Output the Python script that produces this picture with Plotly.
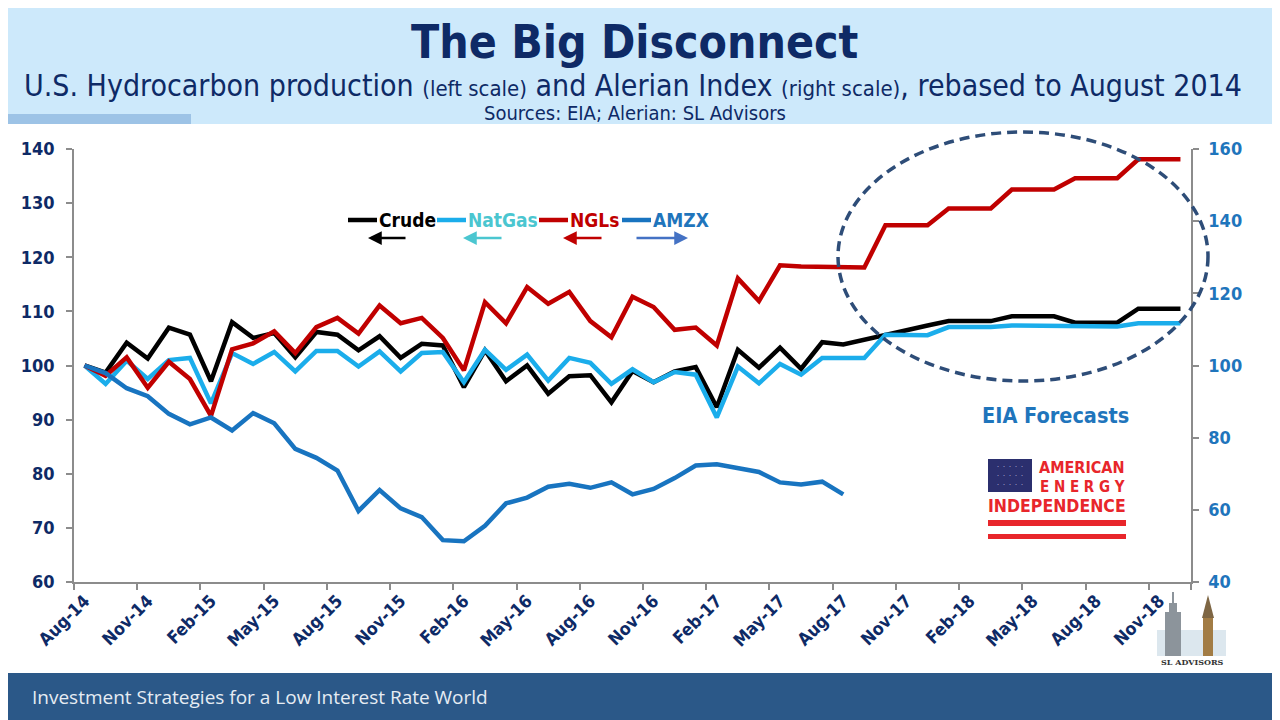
import pandas as pd
import plotly.graph_objects as go

# monthly categories, Aug-14 .. Dec-18
months = pd.date_range("2014-08-01", "2018-12-01", freq="MS").strftime("%b-%y").tolist()

# left scale, rebased to Aug 2014 = 100
crude = [100, 98.7, 104.2, 101.3, 107.0, 105.7, 97.1, 108.0, 105.1, 106.0,
         101.5, 106.2, 105.7, 102.8, 105.4, 101.4, 104.0, 103.7, 96.0, 102.8,
         97.1, 100.0, 94.8, 98.0, 98.2, 93.2, 99.0, 96.9, 98.9, 99.7,
         92.3, 102.9, 99.6, 103.3, 99.4, 104.3, 103.9, 104.7, 105.6, 106.5,
         107.4, 108.2, 108.2, 108.2, 109.1, 109.1, 109.1, 107.9, 107.9, 107.9,
         110.5, 110.5, 110.5]
natgas = [100, 96.6, 100.9, 97.5, 101.0, 101.4, 93.0, 102.3, 100.3, 102.5,
          98.9, 102.7, 102.7, 99.8, 102.6, 98.9, 102.3, 102.5, 96.9, 102.9,
          99.2, 102.0, 97.2, 101.4, 100.5, 96.6, 99.3, 96.9, 98.8, 98.3,
          90.4, 99.8, 96.7, 100.3, 98.3, 101.4, 101.4, 101.4, 105.7, 105.6,
          105.6, 107.1, 107.1, 107.1, 107.4, 107.4, 107.4, 107.2, 107.2, 107.2,
          107.8, 107.8, 107.8]
ngls = [100, 98.1, 101.5, 95.9, 100.7, 97.5, 90.7, 103.0, 104.1, 106.3,
        102.3, 107.1, 108.8, 105.9, 111.1, 107.8, 108.8, 105.1, 99.1, 111.7,
        107.8, 114.5, 111.4, 113.6, 108.2, 105.2, 112.7, 110.8, 106.6, 107.0,
        103.7, 116.1, 111.9, 118.5, 118.3, 118.2, 118.1, 118.1, 125.9, 125.9,
        125.9, 129.0, 129.0, 129.0, 132.5, 132.5, 132.5, 134.6, 134.6, 134.6,
        138.1, 138.1, 138.1]
# right scale, Alerian MLP index (Aug-14 .. Aug-17)
amzx = [100, 97.9, 93.7, 91.5, 86.6, 83.7, 85.6, 82.0, 86.8, 84.0,
        76.9, 74.4, 70.9, 59.7, 65.5, 60.4, 58.0, 51.6, 51.3, 55.6,
        61.8, 63.4, 66.4, 67.2, 66.1, 67.6, 64.3, 65.8, 68.8, 72.3,
        72.6, 71.7, 70.5, 67.6, 67.0, 67.8, 64.3]

idx = list(range(len(months)))

NAVY = "#0E2A66"
FONT = "Tahoma, 'DejaVu Sans Condensed', 'DejaVu Sans', sans-serif"

# the page body adds an 8px margin, so the figure is a bit smaller than the window
OFF = 8
W, H = 1280 - OFF, 720 - OFF
# plot area in page pixels, used to place the decorations
L, R, T, B = 74, 1191, 149, 582


def px(x):
    return (x - L) / (R - L)


def py(y):
    return (B - y) / (B - T)


fig = go.Figure()
fig.add_trace(go.Scatter(x=idx, y=crude, name="Crude", mode="lines",
                         line=dict(color="#000000", width=4.5)))
fig.add_trace(go.Scatter(x=idx, y=natgas, name="NatGas", mode="lines",
                         line=dict(color="#1BADEB", width=4.5)))
fig.add_trace(go.Scatter(x=idx, y=ngls, name="NGLs", mode="lines",
                         line=dict(color="#C00000", width=4.5)))
fig.add_trace(go.Scatter(x=idx[:len(amzx)], y=amzx, name="AMZX", mode="lines",
                         line=dict(color="#1874C0", width=4.5), yaxis="y2"))

shapes = []
ann = []


def rect(x0, y0, x1, y1, color, layer="below"):
    shapes.append(dict(type="rect", xref="paper", yref="paper",
                       x0=px(x0), x1=px(x1), y0=py(y1), y1=py(y0),
                       fillcolor=color, line=dict(width=0), layer=layer))


def text(x, y, s, size, color, bold=False, xanchor="center", family=FONT):
    ann.append(dict(xref="paper", yref="paper", x=px(x), y=py(y), text=s,
                    showarrow=False, xanchor=xanchor, yanchor="middle",
                    font=dict(family=family, size=size, color=color,
                              weight="bold" if bold else "normal")))


# header and footer bands
rect(0, 0, 1280, 124, "#CDE9FB")
rect(0, 114, 191, 124, "#9DC3E6")
rect(0, 673, 1280, 720, "#2B5888")

text(634, 42, "The Big Disconnect", 46, NAVY, bold=True)
text(633, 85, "U.S. Hydrocarbon production <span style='font-size:22px'>(left scale)</span> and Alerian Index "
              "<span style='font-size:22px'>(right scale)</span>, rebased to August 2014", 30, NAVY)
text(635, 113, "Sources: EIA; Alerian: SL Advisors", 20, NAVY)
text(30, 697, "Investment Strategies for a Low Interest Rate World", 19, "#E6ECF3",
     xanchor="left", family="'Open Sans', sans-serif")

# hand-made legend with direction arrows
legend = [("Crude", "#000000", "#000000", 348),
          ("NatGas", "#1BADEB", "#4BC6D0", 437),
          ("NGLs", "#C00000", "#C00000", 539),
          ("AMZX", "#1874C0", "#1F75BC", 622)]
for name, lc, tc, x0 in legend:
    shapes.append(dict(type="line", xref="paper", yref="paper",
                       x0=px(x0), x1=px(x0 + 29), y0=py(220), y1=py(220),
                       line=dict(color=lc, width=4.5)))
    text(x0 + 29, 220, name, 19, tc, bold=True, xanchor="left")
ar = [(368, 407, "#000000", "left"), (463, 503, "#4BC6D0", "left"),
      (563, 603, "#C00000", "left"), (635, 688, "#4472C4", "right")]
for a0, a1, col, direc in ar:
    head, tail = (a0, a1) if direc == "left" else (a1, a0)
    ann.append(dict(xref="paper", yref="paper", x=px(head), y=py(238),
                    ax=tail - head, ay=0, axref="pixel", ayref="pixel",
                    text="", showarrow=True, arrowhead=2, arrowsize=1.1,
                    arrowwidth=2.5, arrowcolor=col))

# forecast ellipse
shapes.append(dict(type="circle", xref="paper", yref="paper",
                   x0=px(838), x1=px(1208), y0=py(381), y1=py(132),
                   line=dict(color="#2E4D78", width=3.5, dash="10px,6px")))
text(1055, 415, "EIA Forecasts", 21.5, "#1F75BC", bold=True)

# American Energy Independence badge
rect(988, 459, 1032, 492, "#2B2F6E", layer="above")
text(1010, 476, "·  ·  ·  ·  ·<br>·  ·  ·  ·  ·<br>·  ·  ·  ·  ·", 7, "#C9CCE8")
text(1082, 467, "AMERICAN", 16, "#E8262B", bold=True)
text(1082, 487, "E N E R G Y", 15, "#E8262B", bold=True)
text(1057, 506, "INDEPENDENCE", 17.5, "#E8262B", bold=True)
rect(988, 520, 1126, 526, "#E8262B", layer="above")
rect(988, 534, 1126, 539, "#E8262B", layer="above")

# SL Advisors emblem
rect(1157, 630, 1226, 656, "#DCE7EE")
rect(1165, 612, 1181, 656, "#8C949B")
rect(1169, 603, 1177, 612, "#8C949B")
rect(1172, 592, 1174, 603, "#8C949B")
rect(1203, 618, 1213, 656, "#A27C45")
shapes.append(dict(type="path", xref="paper", yref="paper", layer="below",
                   path=f"M {px(1202)},{py(618)} L {px(1208)},{py(595)} L {px(1214)},{py(618)} Z",
                   fillcolor="#7E6644", line=dict(width=0)))
text(1192, 662, "SL ADVISORS", 8, "#333333", bold=True, family="'DejaVu Serif', serif")

fig.update_layout(
    width=W, height=H,
    margin=dict(l=L - OFF, r=1280 - R, t=T - OFF, b=720 - B),
    paper_bgcolor="#FFFFFF", plot_bgcolor="#FFFFFF",
    showlegend=False,
    font=dict(family=FONT),
    shapes=shapes, annotations=ann,
    xaxis=dict(range=[-0.5, len(months) - 0.5], tickvals=idx[::3], ticktext=months[::3],
               tickangle=-45, ticks="", showgrid=False, zeroline=False,
               showline=True, linecolor="#8C8C8C", linewidth=1.5,
               tickfont=dict(size=17.5, color=NAVY, weight="bold"),
               minor=dict(tickvals=[i - 0.5 for i in idx[::3]] + [len(months) - 0.5],
                          ticks="outside", ticklen=6, tickcolor="#8C8C8C", tickwidth=1.5)),
    yaxis=dict(range=[60, 140], dtick=10, ticks="outside", ticklen=6,
               tickcolor="#8C8C8C", tickwidth=1.5, showgrid=False, zeroline=False,
               showline=True, linecolor="#8C8C8C", linewidth=1.5, ticklabelstandoff=8,
               tickfont=dict(size=18, color=NAVY, weight="bold")),
    yaxis2=dict(range=[40, 160], dtick=20, overlaying="y", side="right",
                ticks="outside", ticklen=6, tickcolor="#8C8C8C", tickwidth=1.5,
                showgrid=False, zeroline=False, showline=True,
                linecolor="#8C8C8C", linewidth=1.5, ticklabelstandoff=6,
                tickfont=dict(size=18, color="#1F75BC", weight="bold")),
)

fig.write_html("out.html")
